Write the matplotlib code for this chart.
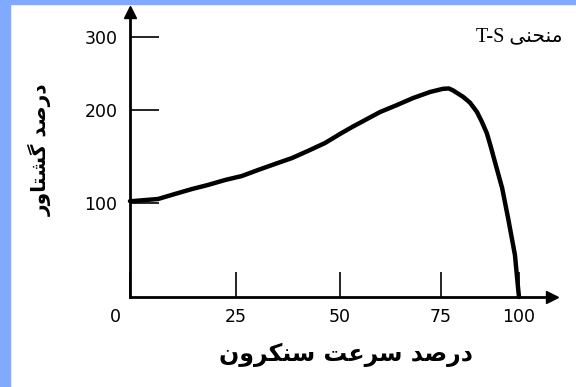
#!/usr/bin/env python3
import numpy as np
import matplotlib

matplotlib.use("Agg")
import matplotlib.pyplot as plt
from matplotlib.patches import Rectangle
from matplotlib.transforms import ScaledTranslation

# speed (% of synchronous) vs torque (% of rated)
speed = [0, 0.5, 6.6, 10.6, 14.6, 18.4, 22.4, 26.4, 30.3, 34.4, 38.5, 42.3, 46.4,
         50.3, 53.0, 55.7, 59.9, 64.1, 68.1, 72.3, 75.6, 77.5, 78.8, 82.1, 84.3,
         86.5, 88.0, 89.7, 91.0, 92.3, 94.6, 96.5, 98.7, 99.7, 100]
torque = [102, 102, 104.3, 109.7, 115, 119.4, 124.7, 129, 135.5, 142, 148.4, 156,
          164.5, 175, 181.7, 188, 197.8, 206.8, 216.4, 224.7, 229, 229.5, 227, 218,
          210, 198, 188, 175, 160, 144, 116, 84, 44.7, 9.6, 0]

x_ticks = [0, 25, 50, 75, 100]
y_ticks = [100, 200, 300]

title = "منحنی"
title_latin = "T-S "
x_label = "درصد سرعت سنکرون"
y_label = "درصد گشتاور"

# the hand drawn axes are not evenly spaced: where the tick values sit (px)
X_REF, X_PX = [0, 25, 50, 75, 100], [130, 236, 340, 441, 519]
Y_REF, Y_PX = [0, 100, 200, 300], [-297, -203, -110, -37]

W, H = 576, 387

# contextual forms: isolated, final, initial, medial
FORMS = {
    "ا": (0xFE8D, 0xFE8E, None, None),
    "د": (0xFEA9, 0xFEAA, None, None),
    "ر": (0xFEAD, 0xFEAE, None, None),
    "و": (0xFEED, 0xFEEE, None, None),
    "ص": (0xFEB9, 0xFEBA, 0xFEBB, 0xFEBC),
    "س": (0xFEB1, 0xFEB2, 0xFEB3, 0xFEB4),
    "ش": (0xFEB5, 0xFEB6, 0xFEB7, 0xFEB8),
    "ت": (0xFE95, 0xFE96, 0xFE97, 0xFE98),
    "ع": (0xFEC9, 0xFECA, 0xFECB, 0xFECC),
    "ن": (0xFEE5, 0xFEE6, 0xFEE7, 0xFEE8),
    "م": (0xFEE1, 0xFEE2, 0xFEE3, 0xFEE4),
    "ح": (0xFEA1, 0xFEA2, 0xFEA3, 0xFEA4),
    "ک": (0xFB8E, 0xFB8F, 0xFB90, 0xFB91),
    "گ": (0xFB92, 0xFB93, 0xFB94, 0xFB95),
    "ی": (0xFBFC, 0xFBFD, 0xFBFE, 0xFBFF),
}


def shape(text):
    out = []
    for i, c in enumerate(text):
        if c not in FORMS:
            out.append(c)
            continue
        iso, fin, ini, med = FORMS[c]
        prev_j = i > 0 and text[i - 1] in FORMS and FORMS[text[i - 1]][2] is not None
        next_j = i + 1 < len(text) and text[i + 1] in FORMS and ini is not None
        if prev_j and next_j:
            g = med
        elif prev_j:
            g = fin
        elif next_j:
            g = ini
        else:
            g = iso
        out.append(chr(g))
    return "".join(reversed(out))


def piecewise(a, b):
    a, b = np.asarray(a, float), np.asarray(b, float)

    def f(v):
        v = np.asarray(v, float)
        out = np.interp(v, a, b)
        lo, hi = v < a[0], v > a[-1]
        out = np.where(lo, b[0] + (v - a[0]) * (b[1] - b[0]) / (a[1] - a[0]), out)
        out = np.where(hi, b[-1] + (v - a[-1]) * (b[-1] - b[-2]) / (a[-1] - a[-2]), out)
        return out

    return f


def fx(px):
    return px / W


def fy(py):
    return 1 - py / H


fig = plt.figure(figsize=(W / 100, H / 100), dpi=100)
fig.patches.append(Rectangle((0, 0), fx(10), 1, transform=fig.transFigure,
                             color="#80aaff", zorder=-1))
fig.patches.append(Rectangle((0, fy(4)), 1, 4 / H, transform=fig.transFigure,
                             color="#80aaff", zorder=-1))

ax = fig.add_axes([fx(130), fy(297), fx(552) - fx(130), fy(12) - fy(297)])
fwd_x, inv_x = piecewise(X_REF, X_PX), piecewise(X_PX, X_REF)
fwd_y, inv_y = piecewise(Y_REF, Y_PX), piecewise(Y_PX, Y_REF)
ax.set_xscale("function", functions=(fwd_x, inv_x))
ax.set_yscale("function", functions=(fwd_y, inv_y))
ax.set_xlim(0, float(inv_x(552)))
ax.set_ylim(0, float(inv_y(-12)))
ax.patch.set_alpha(0)

ax.plot(speed, torque, color="k", lw=3.2, solid_capstyle="round",
        solid_joinstyle="round", clip_on=False)

for s in ("top", "right"):
    ax.spines[s].set_visible(False)
for s in ("left", "bottom"):
    ax.spines[s].set_linewidth(2)
ax.plot([1], [0], marker=">", ms=8, color="k", transform=ax.transAxes, clip_on=False)
ax.plot([0], [1], marker="^", ms=8, color="k", transform=ax.transAxes, clip_on=False)

ax.set_xticks(x_ticks, labels=[str(v) for v in x_ticks])
ax.set_yticks(y_ticks, labels=[str(v) for v in y_ticks])
ax.xaxis.set_minor_locator(matplotlib.ticker.NullLocator())
ax.yaxis.set_minor_locator(matplotlib.ticker.NullLocator())
ax.tick_params(axis="x", direction="in", length=18, width=1.2, pad=8, labelsize=12.5)
ax.tick_params(axis="y", direction="in", length=21, width=1.2, pad=9, labelsize=12.5)
zero = ax.get_xticklabels()[0]
zero.set_transform(zero.get_transform() + ScaledTranslation(-0.15, 0, fig.dpi_scale_trans))

fig.text(fx(563), fy(37), title_latin + shape(title), ha="right", va="center",
         fontsize=14.5, family=["Liberation Serif", "DejaVu Sans"])
fig.text(fx(346), fy(355), shape(x_label), ha="center", va="center",
         fontsize=17, fontweight="bold")
fig.text(fx(40), fy(150), shape(y_label), ha="center", va="center",
         fontsize=14.5, fontweight="bold", rotation=90)

fig.savefig("out.png", dpi=100)
plt.close(fig)
